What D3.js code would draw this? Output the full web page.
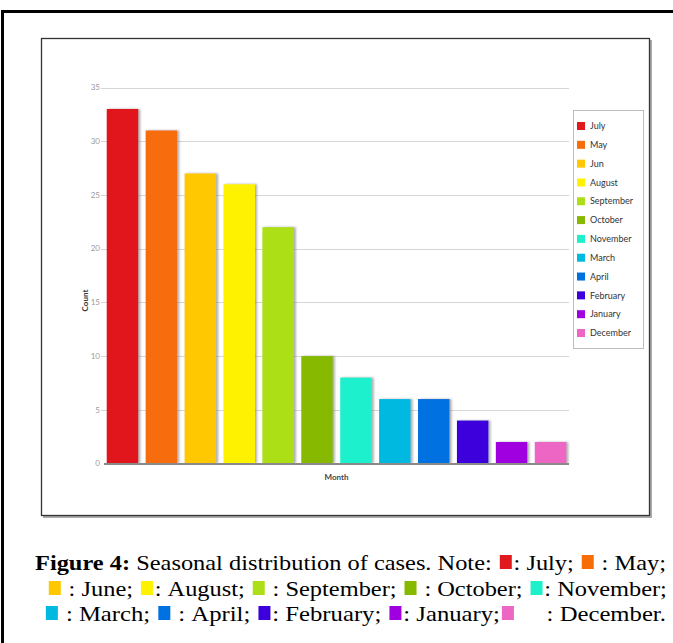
<!DOCTYPE html>
<html>
<head>
<meta charset="utf-8">
<script src="https://cdn.jsdelivr.net/npm/d3@7"></script>
<style>
  body { margin: 0; background: #fff; }
  svg { display: block; }
  .tick-label { font-family: Lato, "Open Sans", sans-serif; font-size: 8px; fill: #9a9a9a; }
  .legend-label { font-family: Lato, "Open Sans", sans-serif; font-size: 9px; fill: #333; }
</style>
</head>
<body>
<div id="chart"></div>
<script>
const months = ['July', 'May', 'Jun', 'August', 'September', 'October', 'November', 'March', 'April', 'February', 'January', 'December'];
const counts = [33, 31, 27, 26, 22, 10, 8, 6, 6, 4, 2, 2];
const colors = ['#e0191f', '#f76d08', '#ffc800', '#fff200', '#acdf17', '#86b900', '#1ef0cc', '#00b9e0', '#0071e0', '#3c00dd', '#a000df', '#ee66c4'];
const yTicks = [0, 5, 10, 15, 20, 25, 30, 35];

// caption lines: strings are text, numbers are swatch indices
const captionLines = [
    [{ t: 'Figure 4:', bold: true }, ' Seasonal distribution of cases. Note: ', 0, ': July; ', 1, ' : May;'],
    [2, ' : June; ', 3, ': August; ', 4, ' : September; ', 5, ' : October; ', 6, ': November;'],
    [7, ' : March; ', 8, ' : April; ', 9, ': February; ', 10, ': January;', 11, '     : December.']
];

const width = 673, height = 643;
const svg = d3.select('#chart').append('svg')
    .attr('width', width)
    .attr('height', height);

const defs = svg.append('defs');
defs.append('filter')
    .attr('id', 'shadow')
    .attr('x', '-20%').attr('y', '-5%').attr('width', '150%').attr('height', '110%')
    .append('feDropShadow')
    .attr('dx', 2).attr('dy', 0)
    .attr('stdDeviation', 0.8)
    .attr('flood-color', '#777')
    .attr('flood-opacity', 0.6);

// outer page frame
svg.append('path')
    .attr('d', `M2.5,${height} L2.5,11.5 L${width},11.5`)
    .attr('fill', 'none')
    .attr('stroke', '#000')
    .attr('stroke-width', 3);

// chart box with shadow edge
svg.append('path')
    .attr('d', 'M43,517 L651,517 L651,40')
    .attr('fill', 'none')
    .attr('stroke', '#aaa')
    .attr('stroke-width', 2);
svg.append('rect')
    .attr('x', 41.5).attr('y', 38.5)
    .attr('width', 608).attr('height', 477)
    .attr('fill', '#fff')
    .attr('stroke', '#333')
    .attr('stroke-width', 1.3);

const plot = { left: 104, right: 569, top: 87.5, bottom: 463.5 };

const x = d3.scaleBand()
    .domain(months)
    .range([plot.left, plot.right])
    .paddingInner(0.19)
    .paddingOuter(0.07);

const y = d3.scaleLinear()
    .domain([0, 35])
    .range([plot.bottom, plot.top]);

// grid lines
svg.append('g')
    .selectAll('line')
    .data(yTicks.filter(d => d > 0))
    .join('line')
    .attr('x1', plot.left - 3)
    .attr('x2', plot.right)
    .attr('y1', d => Math.round(y(d)) + 0.5)
    .attr('y2', d => Math.round(y(d)) + 0.5)
    .attr('stroke', '#d6d6d6')
    .attr('stroke-width', 1);

// y tick labels
svg.append('g')
    .selectAll('text')
    .data(yTicks)
    .join('text')
    .attr('class', 'tick-label')
    .attr('x', plot.left - 4)
    .attr('y', d => y(d))
    .attr('dy', '0.35em')
    .attr('text-anchor', 'end')
    .text(d => d);

// bars
svg.append('g')
    .selectAll('rect')
    .data(months)
    .join('rect')
    .attr('x', d => x(d))
    .attr('y', (d, i) => y(counts[i]))
    .attr('width', x.bandwidth())
    .attr('height', (d, i) => y(0) - y(counts[i]))
    .attr('fill', (d, i) => colors[i])
    .attr('filter', 'url(#shadow)');

// x axis baseline
svg.append('line')
    .attr('x1', plot.left)
    .attr('x2', plot.right)
    .attr('y1', plot.bottom + 0.5)
    .attr('y2', plot.bottom + 0.5)
    .attr('stroke', '#8a8a8a')
    .attr('stroke-width', 2);

// axis titles
svg.append('text')
    .attr('transform', `translate(88,${(plot.top + plot.bottom) / 2 + 25}) rotate(-90)`)
    .attr('text-anchor', 'middle')
    .attr('font-family', 'Lato, sans-serif')
    .attr('font-size', 8)
    .attr('font-weight', 'bold')
    .attr('fill', '#333')
    .text('Count');

svg.append('text')
    .attr('x', (plot.left + plot.right) / 2)
    .attr('y', 480)
    .attr('text-anchor', 'middle')
    .attr('font-family', 'Lato, sans-serif')
    .attr('font-size', 8)
    .attr('font-weight', 'bold')
    .attr('fill', '#444')
    .text('Month');

// legend
const legend = svg.append('g');
legend.append('rect')
    .attr('x', 573.5).attr('y', 110.5)
    .attr('width', 70).attr('height', 238)
    .attr('fill', '#fff')
    .attr('stroke', '#bdbdbd');

const legendY = d3.scalePoint()
    .domain(months)
    .range([126, 333]);

const items = legend.selectAll('g')
    .data(months)
    .join('g')
    .attr('transform', d => `translate(577,${legendY(d)})`);
items.append('rect')
    .attr('x', 0).attr('y', -4)
    .attr('width', 8).attr('height', 8)
    .attr('fill', (d, i) => colors[i]);
items.append('text')
    .attr('class', 'legend-label')
    .attr('x', 13)
    .attr('dy', '0.35em')
    .text(d => d);

// caption with inline colour swatches, each line stretched horizontally to its span
const lineY = [570, 596, 621];
const lineSpan = [[35, 666], [47, 667], [44, 666]];
const swatchW = 12, swatchH = 14;

captionLines.forEach((segs, li) => {
    const g = svg.append('g');
    let cx = 0;
    const swatches = [];
    segs.forEach(seg => {
        if (typeof seg === 'number') {
            swatches.push({ x: cx + 1, c: colors[seg] });
            cx += swatchW + 2;
        } else {
            const isBold = typeof seg === 'object' && seg.bold === true;
            const txt = (isBold ? seg.t : seg).replace(/ /g, '\u00a0');
            const node = g.append('text')
                .attr('x', cx)
                .attr('y', lineY[li])
                .attr('font-family', 'Liberation Serif')
                .attr('font-size', 22)
                .attr('font-weight', isBold ? 700 : 400)
                .attr('fill', '#000')
                .text(txt);
            cx += node.node().getComputedTextLength();
        }
    });
    const sx = (lineSpan[li][1] - lineSpan[li][0]) / cx;
    g.attr('transform', `translate(${lineSpan[li][0]},0) scale(${sx},1)`);
    // swatches placed outside the scaled group so they keep their width
    swatches.forEach(s => {
        svg.append('rect')
            .attr('x', lineSpan[li][0] + s.x * sx + (sx - 1) * swatchW / 2)
            .attr('y', lineY[li] - 15)
            .attr('width', swatchW)
            .attr('height', swatchH)
            .attr('fill', s.c);
    });
});
</script>
</body>
</html>
